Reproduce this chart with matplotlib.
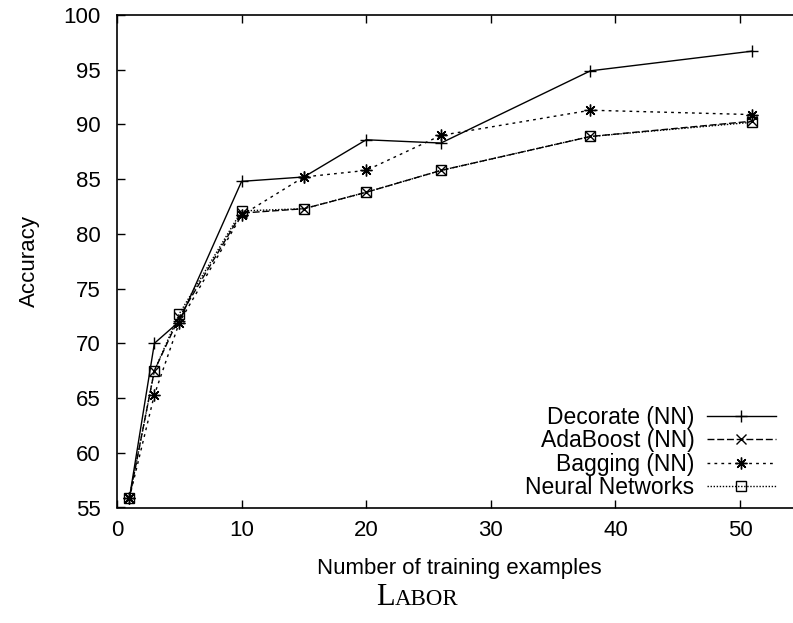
import matplotlib.pyplot as plt

plt.rcParams['font.family'] = ['Liberation Sans', 'DejaVu Sans']

n_train = [1, 3, 5, 10, 15, 20, 26, 38, 51]
decorate = [55.9, 70.0, 72.0, 84.8, 85.2, 88.6, 88.3, 94.9, 96.7]
adaboost = [55.9, 67.5, 72.4, 81.9, 82.3, 83.8, 85.8, 88.9, 90.3]
bagging = [55.9, 65.3, 71.9, 81.7, 85.2, 85.8, 89.0, 91.3, 90.9]
neural = [55.9, 67.5, 72.7, 82.1, 82.3, 83.8, 85.8, 88.9, 90.2]

fig = plt.figure(figsize=(7.93, 6.23), dpi=100)
ax = fig.add_axes([117 / 793, 1 - 507.5 / 623, 685.3 / 793, 492.5 / 623])

asterisk = (8, 2, 0)
ax.plot(n_train, decorate, color='k', lw=1.0, ls='-', marker='+', ms=9, mew=1.0,
        label='Decorate (NN)')
ax.plot(n_train, adaboost, color='k', lw=1.0, ls=(0, (5, 2)), marker='x', ms=7, mew=1.0,
        label='AdaBoost (NN)')
ax.plot(n_train, bagging, color='k', lw=1.0, ls=(0, (2, 3)), marker=asterisk, ms=8.5, mew=1.0,
        label='Bagging (NN)')
ax.plot(n_train, neural, color='k', lw=1.0, ls=(0, (1, 1.2)), marker='s', ms=7, mew=1.0,
        mfc='none', label='Neural Networks')

ax.set_xlim(0, 55)
ax.set_ylim(55, 100)
ax.set_xticks(range(0, 51, 10))
ax.set_yticks(range(55, 101, 5))
ax.tick_params(direction='in', length=6, width=1.0, labelsize=16, top=True, right=False)
ax.tick_params(axis='y', pad=12)
ax.tick_params(axis='x', pad=9)
for s in ax.spines.values():
    s.set_linewidth(1.2)

ax.set_xlabel('Number of training examples', fontsize=16, labelpad=12)
ax.set_ylabel('Accuracy', fontsize=16, labelpad=17)

leg = ax.legend(loc='lower right', bbox_to_anchor=(0.978, -0.006), markerfirst=False,
                frameon=False, fontsize=16.5, handlelength=3.0, handletextpad=0.55,
                labelspacing=0.02, borderaxespad=0.1)

# small-caps caption
base_y = 1 - 605 / 623
t1 = fig.text(376 / 793, base_y, 'L', fontsize=22, family='Liberation Serif',
              ha='left', va='baseline')
fig.canvas.draw()
t2 = fig.text(0, 0, 'ABOR', fontsize=16.5, family='Liberation Serif', ha='left', va='baseline')
bb = t1.get_window_extent()
t2.set_position((bb.x1 / fig.bbox.width, base_y))

fig.savefig('out.png', dpi=100)
